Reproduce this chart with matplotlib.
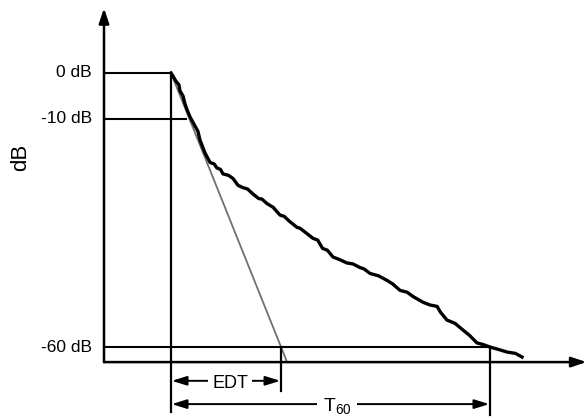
import matplotlib.pyplot as plt

plt.rcParams['font.family'] = ['Liberation Sans', 'DejaVu Sans']
plt.rcParams['mathtext.fontset'] = 'custom'
plt.rcParams['mathtext.rm'] = 'Liberation Sans'

# --- data (time in s, level in dB) ---
decay_t = [0.0, 0.006, 0.031, 0.05, 0.056, 0.075, 0.088, 0.10, 0.119, 0.144, 0.169,
           0.182, 0.213, 0.245, 0.27, 0.288, 0.31, 0.326, 0.36, 0.389, 0.42, 0.451,
           0.48, 0.514, 0.55, 0.57, 0.602, 0.64, 0.683, 0.71, 0.74, 0.790, 0.809, 0.85,
           0.890, 0.92, 0.95, 0.98, 1.016, 1.06, 1.103, 1.14, 1.185, 1.21, 1.248, 1.30,
           1.354, 1.39, 1.436, 1.48, 1.52, 1.58, 1.624, 1.668, 1.69, 1.730, 1.78, 1.831,
           1.87, 1.918, 1.96, 2.0, 2.05, 2.107, 2.16, 2.201]
decay_db = [0.0, -0.3, -1.8, -2.6, -3.9, -5.0, -6.8, -8.0, -9.6, -11.2, -12.8,
            -14.7, -17.5, -19.6, -19.9, -20.8, -21.1, -22.1, -22.4, -23.1, -24.6, -25.1,
            -25.4, -26.5, -27.5, -27.6, -28.6, -29.4, -31.1, -31.4, -32.4, -33.8, -34.0, -35.1,
            -36.2, -36.6, -38.4, -38.8, -40.3, -40.9, -41.6, -41.8, -42.6, -42.9, -43.9, -44.4,
            -45.4, -46.2, -47.6, -48.0, -49.0, -50.2, -50.8, -51.1, -52.4, -54.1, -54.8, -56.3,
            -57.4, -59.1, -59.5, -60.0, -60.5, -61.1, -61.4, -62.2]

levels = [0, -10, -60]
level_labels = ['0 dB', '-10 dB', '-60 dB']
level_ends = [0.0, 0.10, 2.0]   # where each level line meets the curve
edt = 0.69
t60 = 2.0

# --- layout (data units) ---
y_axis_t = -0.42
x_axis_db = -63.3
fig = plt.figure(figsize=(5.87, 4.19), dpi=100)
ax = fig.add_axes([0, 0, 1, 1])
ax.set_xlim(-1.072, 2.608)
ax.set_ylim(-75.76, 15.98)
ax.axis('off')

# axes with arrows
ax.annotate('', xy=(y_axis_t, 14.2), xytext=(y_axis_t, x_axis_db),
            arrowprops=dict(arrowstyle='-|>,head_length=0.9,head_width=0.3',
                            color='black', lw=1.8, shrinkA=0, shrinkB=0))
ax.annotate('', xy=(2.605, x_axis_db), xytext=(y_axis_t, x_axis_db),
            arrowprops=dict(arrowstyle='-|>,head_length=0.9,head_width=0.3',
                            color='black', lw=1.8, shrinkA=0, shrinkB=0))
ax.text(-0.945, -18.5, 'dB', rotation=90, ha='center', va='center', fontsize=16)

# level lines and labels
for lv, lab, te in zip(levels, level_labels, level_ends):
    ax.plot([y_axis_t, te], [lv, lv], color='black', lw=1.5, solid_capstyle='butt')
    ax.text(y_axis_t - 0.075, lv, lab, ha='right', va='center', fontsize=12.5)

# EDT extrapolation line
ax.plot([0, edt * x_axis_db / -60], [0, x_axis_db], color='#707070', lw=1.3)

# decay curve
ax.plot(decay_t, decay_db, color='black', lw=2.4, solid_joinstyle='round')

# vertical markers
ax.plot([0, 0], [0, -74.2], color='black', lw=1.6)
ax.plot([edt, edt], [-60, -69.6], color='black', lw=1.6)
ax.plot([t60, t60], [-60, -74.9], color='black', lw=1.6)

# dimension arrows
arrow = dict(arrowstyle='<|-|>,head_length=0.9,head_width=0.28',
             color='black', lw=1.4, shrinkA=0, shrinkB=0)
ax.annotate('', xy=(0.005, -67.4), xytext=(edt - 0.005, -67.4), arrowprops=arrow)
ax.annotate('', xy=(0.005, -72.5), xytext=(t60 - 0.005, -72.5), arrowprops=arrow)
ax.text(0.37, -67.9, 'EDT', ha='center', va='center', fontsize=13,
        bbox=dict(facecolor='white', edgecolor='none', pad=3))
ax.text(1.04, -73.0, r'$\mathregular{T_{60}}$', ha='center', va='center', fontsize=14,
        bbox=dict(facecolor='white', edgecolor='none', pad=4))

fig.savefig('out.png', dpi=100, facecolor='white')
